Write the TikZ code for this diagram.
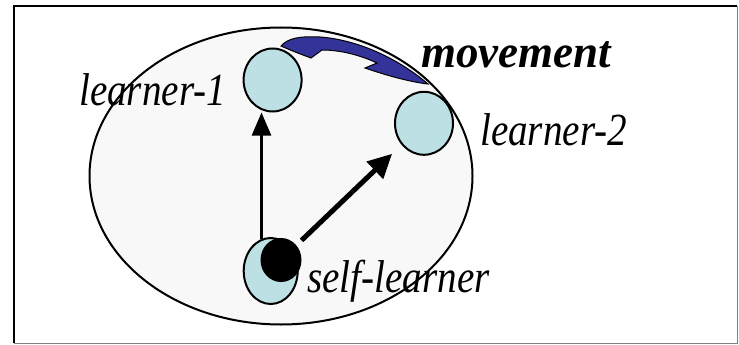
\documentclass[tikz,border=0pt]{standalone}
\usepackage{fontspec}
\setmainfont{Liberation Serif}
\usetikzlibrary{shapes.geometric,arrows.meta}
\definecolor{pale}{RGB}{189,224,229}
\definecolor{bg}{RGB}{248,248,248}
\definecolor{mvblue}{RGB}{51,51,153}
\tikzset{
  learnerbox/.style={ellipse,draw=black,line width=2pt,fill=pale,inner sep=0pt,minimum width=58pt,minimum height=63pt},
  lbl/.style={anchor=base west,inner sep=0pt,xscale=0.85,font=\fontsize{46}{46}\selectfont\itshape},
  thinarr/.style={line width=2.4pt,-{Triangle[length=23pt,width=19pt]}},
  thickarr/.style={line width=5pt,-{Triangle[length=24pt,width=23pt]}}
}
\begin{document}
\begin{tikzpicture}[x=1pt,y=-1pt]
\useasboundingbox (0,0) rectangle (739,345);
% frame
\draw[gray,line width=1pt] (737,6) -- (737,343) -- (14,343);
\draw[black,line width=2pt] (14,343) -- (14,6) -- (737,6);
% big ellipse
\node[ellipse,fill=bg,inner sep=0pt,minimum width=383pt,minimum height=297pt] (world) at (281,176) {};
% labels
\node[lbl] (t1) at (79,105) {learner-1};
\node[lbl] (t2) at (480,145) {learner-2};
\node[lbl] (t3) at (307,292) {self-learner};
\node[lbl,xscale=1.15,font=\fontsize{46}{46}\selectfont\bfseries\itshape] (t4) at (421,67) {movement};
\node[ellipse,draw=black,line width=2pt,inner sep=0pt,minimum width=383pt,minimum height=297pt] (worldo) at (281,176) {};
% learners
\node[learnerbox] (l1) at (272.6,80) {};
\node[learnerbox] (l2) at (424,123.3) {};
\node[learnerbox,minimum width=54pt,minimum height=66pt] (self) at (270.7,271) {};
\node[ellipse,fill=black,inner sep=0pt,minimum width=41pt,minimum height=44pt] (selfdot) at (281,260) {};
% movement arrow
\filldraw[fill=mvblue,draw=black,line width=1pt]
  (281,46) .. controls (288,38) and (300,36) .. (320,37)
  .. controls (360,40) and (400,60) .. (428,84)
  .. controls (410,82) and (385,75) .. (365,68)
  -- (377,63)
  .. controls (360,55) and (340,50) .. (322,50)
  -- (311,58)
  .. controls (300,54) and (290,50) .. (281,46) -- cycle;
% arrows
\draw[thinarr] (self.106) -- (self.106 |- l1.south);
\draw[thickarr,shorten <=7pt,shorten >=13pt] (selfdot) -- (l2);
\end{tikzpicture}
\end{document}
